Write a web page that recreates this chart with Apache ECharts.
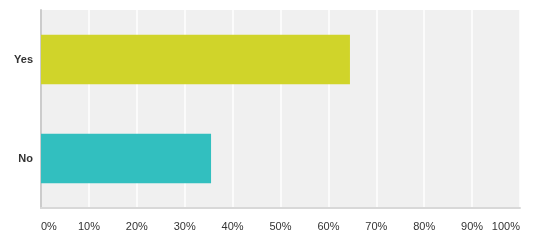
<!DOCTYPE html>
<html><head><meta charset="utf-8">
<script src="https://cdn.jsdelivr.net/npm/echarts@6/dist/echarts.min.js"></script>
<style>html,body{margin:0;padding:0;background:#fff}#c{width:535px;height:246px}</style>
</head><body><div id="c"></div>
<script>
const categories = ["Yes", "No"];
const values = [64.5, 35.5];
const barColors = ["#d0d42a", "#32bfbf"];
const tickValues = [0, 10, 20, 30, 40, 50, 60, 70, 80, 90, 100];

const chart = echarts.init(document.getElementById('c'), null, {renderer: 'canvas'});
chart.setOption({
  animation: false,
  grid: {left: 41, right: 15, top: 10, bottom: 38, show: true, backgroundColor: '#f0f0f0', borderWidth: 0},
  xAxis: {
    type: 'value', min: 0, max: 100, interval: 10,
    axisLine: {show: false},
    axisTick: {show: false},
    splitLine: {show: true, lineStyle: {color: '#ffffff', width: 1.5}},
    axisLabel: {
      margin: 13, color: '#333', fontFamily: 'Liberation Sans, Arial, sans-serif', fontSize: 11,
      alignMinLabel: 'left', alignMaxLabel: 'right',
      formatter: v => v + '%'
    }
  },
  yAxis: {
    type: 'category', data: categories, inverse: true,
    axisLine: {show: true, lineStyle: {color: '#cccccc', width: 2}},
    axisTick: {show: false},
    axisLabel: {margin: 8, color: '#333', fontWeight: 'bold', fontFamily: 'Liberation Sans, Arial, sans-serif', fontSize: 11}
  },
  series: [{
    type: 'bar', barWidth: '50%',
    data: values.map((v, i) => ({value: v, itemStyle: {color: barColors[i]}})),
  }],
  graphic: []
});
// bottom axis line
chart.setOption({
  xAxis: {axisLine: {show: true, onZero: false, lineStyle: {color: '#d8d8d8', width: 2}}}
});
</script></body></html>
